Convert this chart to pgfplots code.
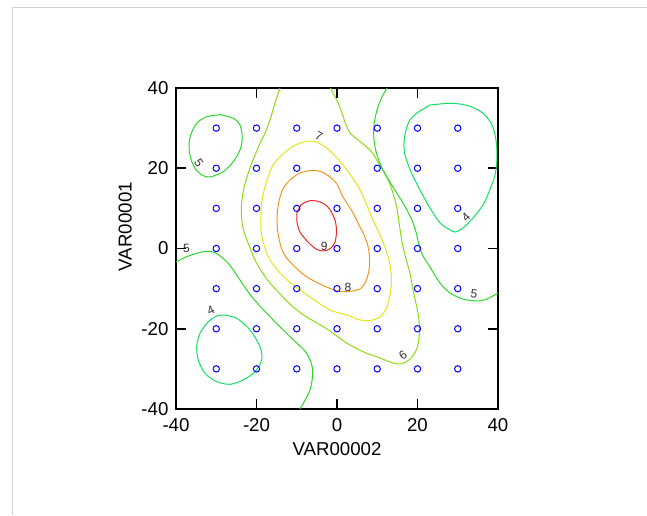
\documentclass[border=0pt]{standalone}
\usepackage{fontspec}
\setmainfont{Liberation Sans}
\usepackage{pgfplots}
\pgfplotsset{compat=1.18}
\definecolor{cfour}{RGB}{20,225,100}
\definecolor{cfive}{RGB}{45,215,45}
\definecolor{csix}{RGB}{140,220,20}
\definecolor{cseven}{RGB}{230,230,20}
\definecolor{ceight}{RGB}{240,150,30}
\definecolor{cnine}{RGB}{230,40,40}
\definecolor{frame}{RGB}{210,210,210}
\begin{document}
\begin{tikzpicture}
\path[use as bounding box] (0,0) rectangle (485.25pt,386.25pt);
\draw[frame, line width=0.75pt] (9pt,0) -- (9pt,380.25pt) -- (485.25pt,380.25pt);
\begin{axis}[
  at={(132pt,79.5pt)}, anchor=south west, scale only axis,
  width=241.5pt, height=240.75pt,
  xmin=-40, xmax=40, ymin=-40, ymax=40,
  xtick={-40,-20,0,20,40}, ytick={-40,-20,0,20,40},
  xticklabels={-40,-20,0,20,40}, yticklabels={-40,-20,0,20,40},
  tick align=inside, major tick length=7.5pt,
  axis line style={line width=1.3pt, black},
  every tick/.style={line width=1.2pt, black},
  ticklabel style={font=\fontsize{14}{16}\selectfont},
  xticklabel style={inner sep=0pt, yshift=-7pt},
  yticklabel style={inner sep=0pt, xshift=-5.5pt},
  xlabel={VAR00002}, ylabel={VAR00001},
  every axis x label/.style={at={(axis description cs:0.5,-0.125)}, anchor=center, font=\fontsize{14}{16}\selectfont},
  every axis y label/.style={at={(axis description cs:-0.158,0.568)}, anchor=center, rotate=90, font=\fontsize{14}{16}\selectfont},
  clip=true,
]
% level 9
\addplot[cnine, line width=0.75pt, smooth] coordinates {
(-9.94,8.85) (-8.94,10.84) (-7.45,11.71) (-5.96,11.96) (-4.22,11.59) (-2.48,10.59) (-1.24,8.85) (-0.37,6.6) (-0.12,4.11) (-0.5,1.62) (-1.49,0.12) (-3.23,-0.62) (-5.22,-0.12) (-7.45,1.87) (-9.19,4.11) (-9.94,6.6) (-9.94,8.85)};
% level 8
\addplot[ceight, line width=0.75pt, smooth] coordinates {
(-11.68,17.07) (-9.69,18.57) (-7.53,19.31) (-5.47,19.44) (-3.73,19.07) (-1.74,17.82) (0,16.07) (1.49,12.83) (3.73,9.35) (5.22,6.36) (6.71,3.36) (7.7,0.62) (8.07,-2.37) (7.95,-5.36) (7.2,-8.1) (5.71,-10.09) (2.73,-10.72) (0,-10.59) (-3.73,-9.1) (-7.45,-7.1) (-10.43,-4.61) (-12.67,-2.12) (-13.91,0.37) (-14.66,3.86) (-14.91,7.1) (-14.66,10.34) (-14.16,12.83) (-13.17,15.33) (-11.68,17.07)};
% level 7
\addplot[cseven, line width=0.75pt, smooth] coordinates {
(-7.2,26.79) (-4.97,26.47) (-2.48,24.97) (0,22.55) (2.48,19.56) (5.71,14.58) (8.94,7.1) (10.68,3.36) (12.17,-0.37) (13.17,-4.11) (13.54,-7.85) (13.17,-11.59) (12.17,-15.08) (10.68,-17.07) (8.2,-17.94) (5.71,-17.82) (2.48,-16.57) (-1.74,-15.33) (-6.71,-12.09) (-10.93,-9.1) (-14.16,-6.1) (-16.65,-2.87) (-18.14,0.87) (-18.88,4.61) (-18.88,9.6) (-18.39,13.33) (-17.39,17.07) (-15.9,20.81) (-13.66,23.3) (-11.18,25.3) (-9.19,26.29) (-7.2,26.79)};
% level 6
\addplot[csix, line width=0.75pt, smooth] coordinates {
(-14.16,40) (-15.4,36.26) (-16.65,32.02) (-17.89,28.79) (-19.63,25.05) (-21.61,20.06) (-23.11,15.08) (-23.73,10.84) (-23.6,6.6) (-22.86,3.36) (-21.86,0.87) (-20.37,-2.87) (-18.63,-5.86) (-16.65,-8.6) (-13.66,-11.84) (-10.93,-14.58) (-7.95,-16.82) (-4.97,-18.57) (-1.74,-20.56) (1.99,-23.3) (6.46,-25.72) (10.68,-27.29) (13.17,-28.29) (15.16,-28.79) (16.89,-28.41) (18.63,-27.04) (19.88,-24.8) (20.45,-21.56) (20.37,-17.82) (19.8,-14.5) (18.88,-10.34) (18.14,-6.11) (16.89,-1.62) (16.07,2.12) (15.4,6.6) (14.83,10.34) (13.66,14.58) (12.35,17.82) (10.19,21.56) (8.2,24.55) (5.22,27.04) (3.23,28.79) (1.99,31.53) (0.99,34.52) (-0.07,37.01) (-1.24,39.25) (-1.61,40)};
% level 5, top right
\addplot[cfive, line width=0.75pt, smooth] coordinates {
(12.42,40) (11.18,37.76) (9.94,34.52) (9.19,30.78) (9.19,27.04) (9.94,23.3) (11.43,19.56) (13.91,15.33) (16.4,11.34) (18.39,7.6) (19.63,4.11) (20.37,0.87) (21.37,-1.87) (23.11,-4.61) (25.59,-8.6) (28.07,-11.09) (31.3,-12.59) (34.71,-13.08) (37.27,-12.59) (40,-11.09)};
% level 5, bottom left
\addplot[cfive, line width=0.75pt, smooth] coordinates {
(-40,-3.36) (-37.34,-2.04) (-33.22,-0.8) (-30.31,-1.05) (-27.01,-3.69) (-24.1,-7.85) (-21.19,-12.01) (-16.65,-17.0) (-11.68,-21.98) (-7.53,-26.12) (-6.04,-30.28) (-6.71,-35.26) (-9.19,-40)};
% level 5, top left loop
\addplot[cfive, line width=0.75pt, smooth] coordinates {
(-29.07,33.35) (-25.76,32.45) (-24.1,30.78) (-23.53,27.46) (-24.1,24.55) (-25.76,21.66) (-28.25,19.16) (-31.55,17.82) (-33.6,18.32) (-35.28,19.99) (-36.35,22.48) (-36.77,25.37) (-36.35,28.29) (-34.86,31.2) (-32.37,32.85) (-29.07,33.35)};
% level 4, top right loop
\addplot[cfour, line width=0.75pt, smooth] coordinates {
(23.11,35.76) (27.25,36.14) (30.56,36.01) (33.54,35.26) (36.52,33.52) (38.51,30.78) (39.5,27.04) (39.75,22.55) (39.25,18.32) (37.76,14.08) (36.27,10.84) (33.79,7.6) (31.3,5.11) (29.32,4.11) (27.33,5.11) (25.59,6.36) (23.11,10.09) (20.62,14.58) (18.39,19.07) (16.89,23.3) (16.65,26.29) (17.14,29.53) (18.14,32.02) (19.88,33.77) (23.11,35.76)};
% level 4, bottom left loop
\addplot[cfour, line width=0.75pt, smooth] coordinates {
(-29.89,-16.82) (-28.25,-16.57) (-24.92,-17.4) (-21.61,-20.31) (-19.13,-24.47) (-18.71,-27.79) (-20.37,-30.7) (-23.28,-32.77) (-26.58,-33.84) (-29.89,-33.2) (-32.8,-31.1) (-34.46,-27.79) (-34.86,-24.47) (-34.04,-21.13) (-31.98,-18.24) (-29.89,-16.82)};
% data points
\addplot[only marks, mark=o, mark size=2.4pt, blue, mark options={line width=0.75pt}] table {
x y
-30 30
-20 30
-10 30
0 30
10 30
20 30
30 30
-30 20
-20 20
-10 20
0 20
10 20
20 20
30 20
-30 10
-20 10
-10 10
0 10
10 10
20 10
30 10
-30 0
-20 0
-10 0
0 0
10 0
20 0
30 0
-30 -10
-20 -10
-10 -10
0 -10
10 -10
20 -10
30 -10
-30 -20
-20 -20
-10 -20
0 -20
10 -20
20 -20
30 -20
-30 -30
-20 -30
-10 -30
0 -30
10 -30
20 -30
30 -30
};
% contour labels
\pgfplotsset{clab/.style={draw=none, mark=none, nodes near coords={#1}, every node near coord/.append style={anchor=center, inner sep=0pt, font=\fontsize{9}{10}\selectfont, text=black!80}}}
\addplot[clab=5, every node near coord/.append style={rotate=-56}] coordinates {(-34.3,21.4)};
\addplot[clab=5] coordinates {(-37.4,-0.1)};
\addplot[clab=5, every node near coord/.append style={rotate=-8}] coordinates {(34.04,-11.4)};
\addplot[clab=4, every node near coord/.append style={rotate=44}] coordinates {(32.0,7.9)};
\addplot[clab=4, every node near coord/.append style={rotate=25}] coordinates {(-31.4,-15.5)};
\addplot[clab=6, every node near coord/.append style={rotate=35}] coordinates {(16.4,-26.5)};
\addplot[clab=7, every node near coord/.append style={rotate=-25}] coordinates {(-4.5,28.0)};
\addplot[clab=8] coordinates {(2.73,-9.6)};
\addplot[clab=9] coordinates {(-3.2,0.6)};
\end{axis}
\end{tikzpicture}
\end{document}
